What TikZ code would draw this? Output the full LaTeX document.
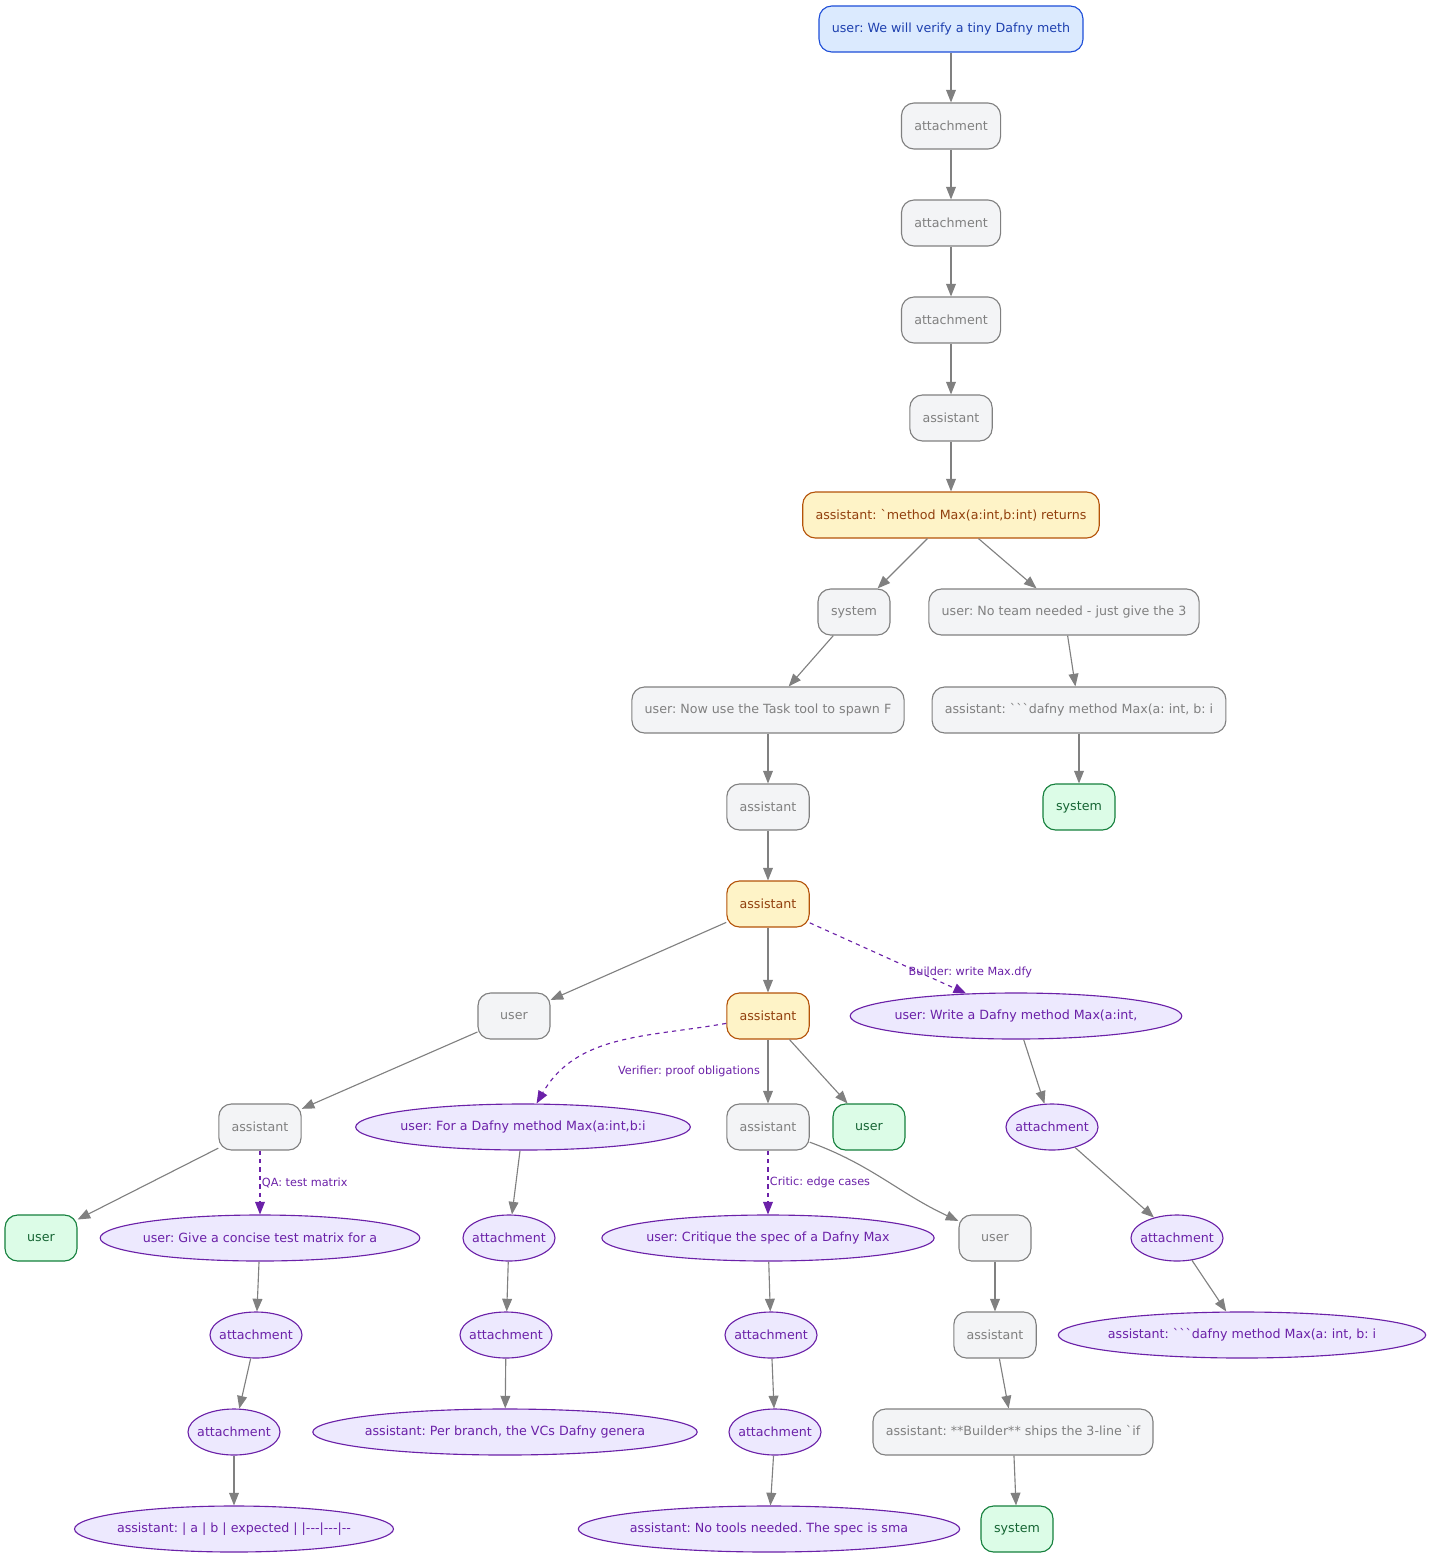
\documentclass[tikz,border=0pt]{standalone}
\usepackage{fontspec}
\setmainfont{DejaVu Sans}[Ligatures=TeXOff]
\usetikzlibrary{arrows.meta,shapes.geometric}
\definecolor{grayfill}{HTML}{F3F4F6}
\definecolor{grayline}{HTML}{808080}
\definecolor{orfill}{HTML}{FEF3C7}
\definecolor{orline}{HTML}{B45309}
\definecolor{ortext}{HTML}{92400E}
\definecolor{grfill}{HTML}{DCFCE7}
\definecolor{grline}{HTML}{15803D}
\definecolor{grtext}{HTML}{166534}
\definecolor{blfill}{HTML}{DBEAFE}
\definecolor{blline}{HTML}{1D4ED8}
\definecolor{bltext}{HTML}{1E40AF}
\definecolor{pufill}{HTML}{EDE9FE}
\definecolor{puline}{HTML}{6B21A8}
\tikzset{
  box/.style={rectangle,rounded corners=9pt,draw=grayline,fill=grayfill,text=grayline,
    minimum height=1.15cm,minimum width=1.8cm,inner xsep=0.32cm,line width=0.8pt,
    font=\fontsize{9}{11}\selectfont},
  orbox/.style={box,draw=orline,fill=orfill,text=ortext},
  grbox/.style={box,draw=grline,fill=grfill,text=grtext},
  blbox/.style={box,draw=blline,fill=blfill,text=bltext},
  ell/.style={ellipse,draw=puline,fill=pufill,text=puline,minimum height=1.15cm,
    inner xsep=-3pt,line width=0.8pt,font=\fontsize{9}{11}\selectfont},
  edge/.style={draw=grayline,line width=0.8pt,-{Triangle[length=9pt,width=7pt]}},
  spawn/.style={draw=puline,line width=0.8pt,dashed,-{Triangle[length=9pt,width=7pt]}},
  lbl/.style={text=puline,font=\fontsize{8}{10}\selectfont,inner sep=1pt}
}
\begin{document}
\frenchspacing
\begin{tikzpicture}[x=0.025cm,y=-0.025cm]
  \useasboundingbox (0,0) rectangle (1431,1560);
  % main chain
  \node[blbox] (n0) at (951,29) {user: We will verify a tiny Dafny meth};
  \node[box] (a1) at (951,126) {attachment};
  \node[box] (a2) at (951,223) {attachment};
  \node[box] (a3) at (951,320) {attachment};
  \node[box] (as1) at (951,418) {assistant};
  \node[orbox] (o1) at (951,515) {assistant: `method Max(a:int,b:int) returns};
  \node[box] (sys1) at (854,612) {system};
  \node[box] (u2) at (1064,612) {user: No team needed - just give the 3};
  \node[box] (u3) at (768,710) {user: Now use the Task tool to spawn F};
  \node[box] (as3) at (1079,710) {assistant: ```dafny method Max(a: int, b: i};
  \node[box] (as4) at (768,807) {assistant};
  \node[grbox] (sysg) at (1079,807) {system};
  \node[orbox] (o2) at (768,904) {assistant};
  \node[box] (u4) at (514,1016) {user};
  \node[orbox] (o3) at (768,1016) {assistant};
  \node[ell] (e1) at (1016,1016) {user: Write a Dafny method Max(a:int,};
  \node[box] (as5) at (260,1127) {assistant};
  \node[ell] (e2) at (523,1127) {user: For a Dafny method Max(a:int,b:i};
  \node[box] (as6) at (768,1127) {assistant};
  \node[grbox] (ug) at (869,1127) {user};
  \node[ell] (e3) at (1052,1127) {attachment};
  \node[grbox] (ug2) at (41,1238) {user};
  \node[ell] (e4) at (260,1238) {user: Give a concise test matrix for a};
  \node[ell] (e5) at (509,1238) {attachment};
  \node[ell] (e6) at (768,1238) {user: Critique the spec of a Dafny Max};
  \node[box] (u5) at (995,1238) {user};
  \node[ell] (e7) at (1177,1238) {attachment};
  \node[ell] (e8) at (256,1335) {attachment};
  \node[ell] (e9) at (506,1335) {attachment};
  \node[ell] (e10) at (771,1335) {attachment};
  \node[box] (as7) at (995,1335) {assistant};
  \node[ell] (e11) at (1242,1335) {assistant: ```dafny method Max(a: int, b: i};
  \node[ell] (e12) at (234,1432) {attachment};
  \node[ell] (e13) at (505,1432) {assistant: Per branch, the VCs Dafny genera};
  \node[ell] (e14) at (775,1432) {attachment};
  \node[box] (as8) at (1013,1432) {assistant: **Builder** ships the 3-line `if};
  \node[ell] (e15) at (234,1529) {assistant: | a | b | expected | |---|---|--};
  \node[ell] (e16) at (769,1529) {assistant: No tools needed. The spec is sma};
  \node[grbox] (sysg2) at (1017,1529) {system};
  % connectors
  \foreach \s/\t in {n0/a1,a1/a2,a2/a3,a3/as1,as1/o1,o1/sys1,o1/u2,sys1/u3,u2/as3,
      u3/as4,as3/sysg,as4/o2,o2/u4,o2/o3,u4/as5,o3/as6,o3/ug,e1/e3,as5/ug2,e2/e5,
      e3/e7,e4/e8,e5/e9,e6/e10,u5/as7,e7/e11,e8/e12,e9/e13,e10/e14,as7/as8,
      e12/e15,e14/e16,as8/sysg2}
    \draw[edge] (\s) -- (\t);
  \draw[edge] (as6) to[out=-20,in=155] (u5);
  \draw[spawn] (o2) -- (e1) node[lbl,pos=0.62,anchor=west,yshift=-4pt] {Builder: write Max.dfy};
  \draw[spawn] (o3) to[out=190,in=60] (e2);
  \node[lbl] (l2) at (689,1071) {Verifier: proof obligations};
  \draw[spawn] (as5) -- (e4) node[lbl,pos=0.5,anchor=west] {QA: test matrix};
  \draw[spawn] (as6) -- (e6) node[lbl,pos=0.5,anchor=west] {Critic: edge cases};
\end{tikzpicture}
\end{document}
